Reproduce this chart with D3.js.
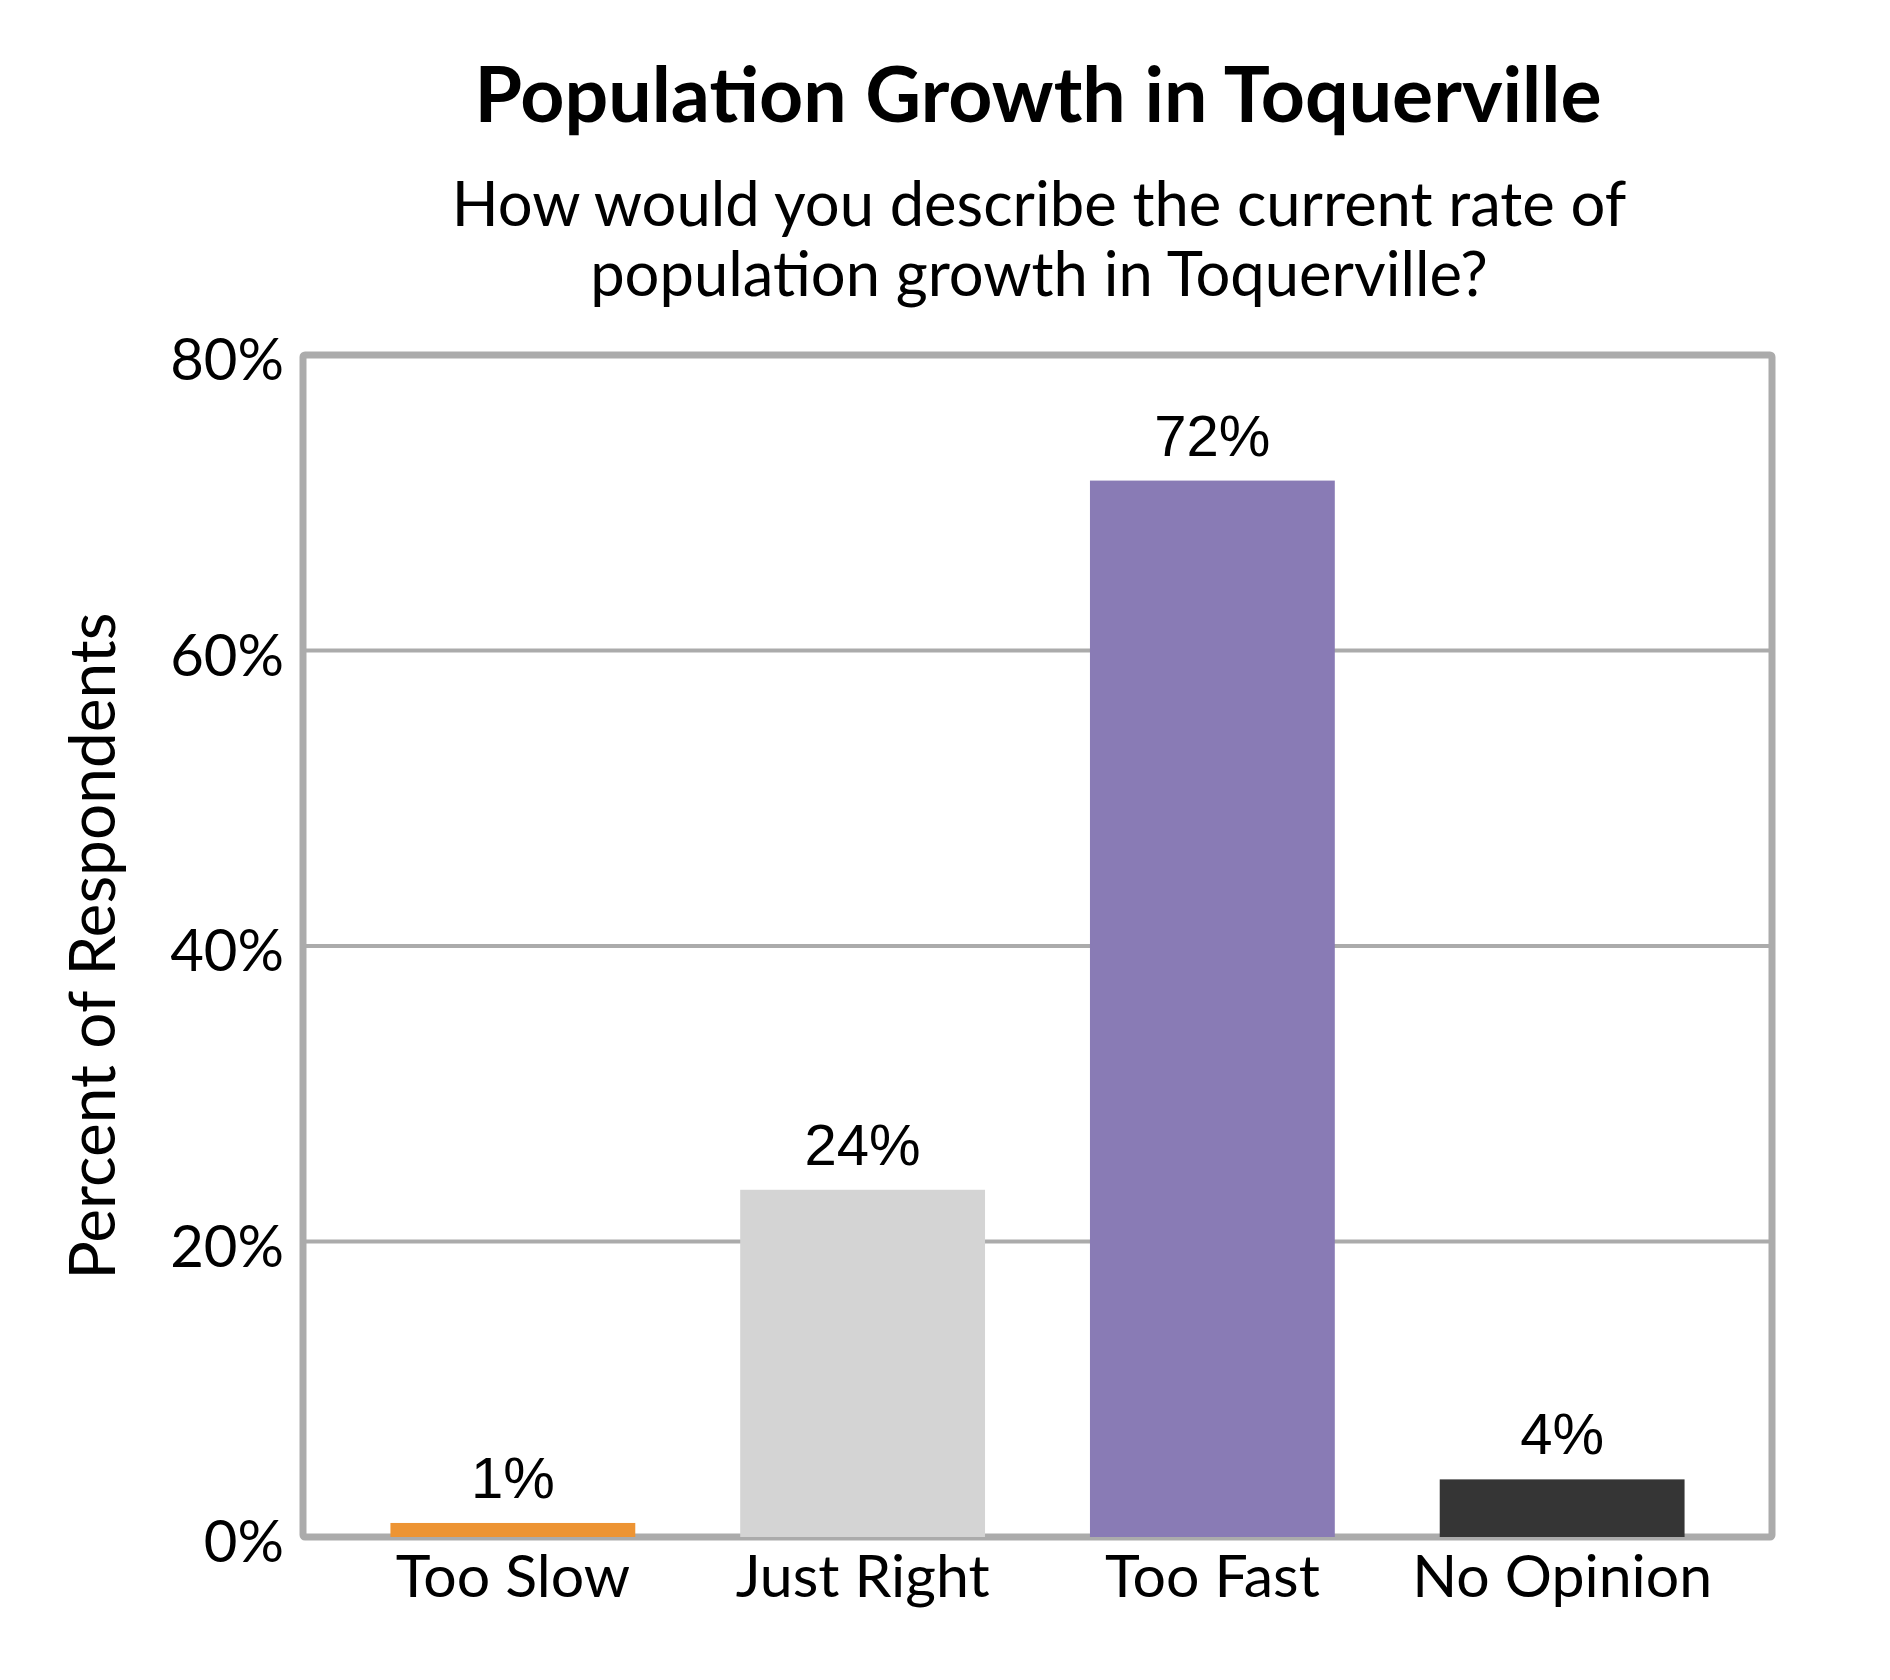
<!DOCTYPE html>
<html>
<head>
<meta charset="utf-8">
<script src="https://cdn.jsdelivr.net/npm/d3@7"></script>
<style>
  html, body { margin: 0; padding: 0; background: #fff; }
  svg { display: block; }
</style>
</head>
<body>
<svg id="chart"></svg>
<script>
// survey answers and their shares (percent)
const categories = ['Too Slow', 'Just Right', 'Too Fast', 'No Opinion'];
const values = [0.95, 23.5, 71.5, 3.9];
const barColors = ['#ED9433', '#D4D4D4', '#897BB5', '#353535'];
const yTicks = [0, 20, 40, 60, 80];

const title = 'Population Growth in Toquerville';
const subtitle = ['How would you describe the current rate of', 'population growth in Toquerville?'];
const yTitle = 'Percent of Respondents';

const W = 1890, H = 1680;
const frame = {left: 303, right: 1772, top: 355, bottom: 1537};
const gray = '#ABABAB';
const textFont = 'Lato, "Open Sans", sans-serif';
const labelFont = '"Liberation Sans", Arial, sans-serif';

const svg = d3.select('#chart')
    .attr('width', W)
    .attr('height', H);

const x = d3.scaleBand()
    .domain(categories)
    .range([frame.left, frame.right])
    .paddingInner(0.3)
    .paddingOuter(0.25);

const y = d3.scaleLinear()
    .domain([0, 80])
    .range([frame.bottom, frame.top]);

// title block
svg.append('text')
    .attr('x', 1038)
    .attr('y', 122)
    .attr('text-anchor', 'middle')
    .style('font-family', textFont)
    .style('font-weight', 'bold')
    .style('font-size', '77px')
    .text(title);

svg.selectAll('.subtitle')
    .data(subtitle)
    .enter()
    .append('text')
    .attr('class', 'subtitle')
    .attr('x', 1039)
    .attr('y', (d, i) => 226 + i * 70)
    .attr('text-anchor', 'middle')
    .style('font-family', textFont)
    .style('font-size', '61.5px')
    .text(d => d);

// gridlines (inner ticks only, frame draws top and bottom)
svg.append('g')
    .selectAll('line')
    .data(yTicks.filter(t => t > 0 && t < 80))
    .enter()
    .append('line')
    .attr('x1', frame.left)
    .attr('x2', frame.right)
    .attr('y1', d => y(d))
    .attr('y2', d => y(d))
    .attr('stroke', gray)
    .attr('stroke-width', 4);

// plot frame
svg.append('rect')
    .attr('x', frame.left)
    .attr('y', y(80))
    .attr('width', frame.right - frame.left)
    .attr('height', y(0) - y(80))
    .attr('fill', 'none')
    .attr('stroke', gray)
    .attr('stroke-width', 7)
    .attr('rx', 2);

// y axis labels
const yAxis = d3.axisLeft(y)
    .tickValues(yTicks)
    .tickFormat(d => d + '%')
    .tickSize(0)
    .tickPadding(19);

const yg = svg.append('g')
    .attr('transform', `translate(${frame.left},0)`)
    .call(yAxis);
yg.select('.domain').remove();
yg.selectAll('text')
    .attr('dy', '0.43em')
    .attr('fill', '#000')
    .style('font-family', textFont)
    .style('font-size', '58px');

// bars
const data = categories.map((c, i) => ({cat: c, value: values[i], color: barColors[i]}));

const bars = svg.selectAll('.bar')
    .data(data)
    .enter()
    .append('g')
    .attr('class', 'bar');

bars.append('rect')
    .attr('x', d => x(d.cat))
    .attr('y', d => y(d.value))
    .attr('width', x.bandwidth())
    .attr('height', d => y(0) - y(d.value))
    .attr('fill', d => d.color);

bars.append('text')
    .attr('x', d => x(d.cat) + x.bandwidth() / 2)
    .attr('y', d => y(d.value) - 25)
    .attr('text-anchor', 'middle')
    .style('font-family', labelFont)
    .style('font-size', '58px')
    .text(d => Math.round(d.value) + '%');

// x axis labels
const xAxis = d3.axisBottom(x).tickSize(0).tickPadding(0);
const xg = svg.append('g')
    .attr('transform', `translate(0,${frame.bottom})`)
    .call(xAxis);
xg.select('.domain').remove();
xg.selectAll('text')
    .attr('y', 60)
    .attr('dy', 0)
    .attr('fill', '#000')
    .style('font-family', textFont)
    .style('font-size', '59px');

// y axis title
svg.append('text')
    .attr('transform', 'translate(115,946) rotate(-90)')
    .attr('text-anchor', 'middle')
    .style('font-family', textFont)
    .style('font-size', '64px')
    .text(yTitle);
</script>
</body>
</html>
